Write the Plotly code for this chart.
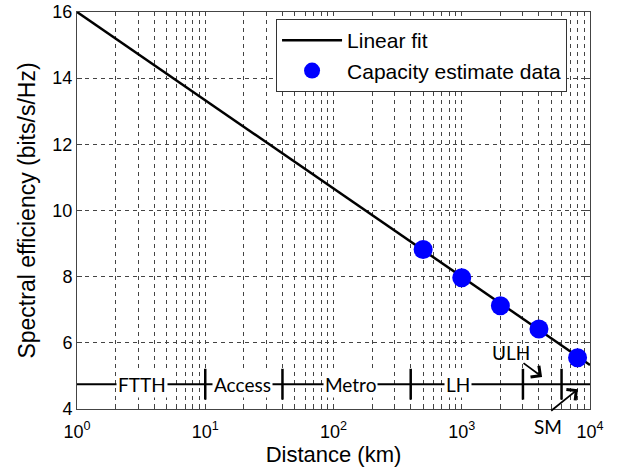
import numpy as np
import plotly.graph_objects as go

# ---- data ----
fit_x = [1, 10000]
fit_y = [16.0, 5.33]
data_x = [500, 1000, 2000, 4000, 8000]
data_y = [8.82, 7.97, 7.12, 6.42, 5.55]

band_level = 4.75
band_edges = [10, 40, 400, 3000, 6000]
band_labels = ["FTTH", "Access", "Metro", "LH"]
band_label_x = [3.2, 19.5, 135, 930]

y_ticks = [4, 6, 8, 10, 12, 14, 16]
decades = [1, 10, 100, 1000, 10000]
decade_text = ["10<sup>0</sup>", "10<sup>1</sup>", "10<sup>2</sup>", "10<sup>3</sup>", "10<sup>4</sup>"]

# tick positions incl. minor (2..9 per decade)
xt_vals, xt_text = [], []
for i, d in enumerate(decades[:-1]):
    for m in range(1, 10):
        xt_vals.append(d * m)
        xt_text.append(decade_text[i] if m == 1 else "")
xt_vals.append(10000)
xt_text.append(decade_text[-1])

FONT = "Liberation Sans, Arial, sans-serif"
BAND_FONT = "Lato, Open Sans, sans-serif"

fig = go.Figure()

# band line
fig.add_trace(go.Scatter(x=[1, 10000], y=[band_level, band_level], mode="lines",
                         line=dict(color="black", width=2), showlegend=False, hoverinfo="skip"))
fig.add_trace(go.Scatter(x=band_edges, y=[band_level] * len(band_edges), mode="markers",
                         marker=dict(symbol="line-ns", size=22, line=dict(color="black", width=2.5)),
                         showlegend=False, hoverinfo="skip"))

fig.add_trace(go.Scatter(x=fit_x, y=fit_y, mode="lines", name="Linear fit",
                         line=dict(color="black", width=2.5)))
fig.add_trace(go.Scatter(x=data_x, y=data_y, mode="markers", name="Capacity estimate data",
                         marker=dict(color="#0000ff", size=19)))

for lab, lx in zip(band_labels, band_label_x):
    fig.add_annotation(x=np.log10(lx), y=band_level, text=lab, showarrow=False,
                       font=dict(family=BAND_FONT, size=19, color="black"),
                       bgcolor="white", borderpad=1)

# ULH
fig.add_annotation(x=np.log10(2400), y=5.72, text="ULH", showarrow=False,
                   font=dict(family=BAND_FONT, size=19, color="black"))
fig.add_annotation(x=np.log10(4230), y=4.97, ax=np.log10(2950), ay=5.42,
                   axref="x", ayref="y", xref="x", yref="y", text="", showarrow=True,
                   arrowhead=4, arrowsize=1.5, arrowwidth=1.8, arrowcolor="black")
# SM
fig.add_annotation(x=np.log10(4700), xref="x", y=-0.045, yref="paper", yanchor="middle",
                   text="SM", showarrow=False,
                   font=dict(family=BAND_FONT, size=19, color="black"))
fig.add_annotation(x=np.log10(8050), y=4.6, ax=np.log10(4850), ay=3.91,
                   axref="x", ayref="y", xref="x", yref="y", text="", showarrow=True,
                   arrowhead=4, arrowsize=1.5, arrowwidth=1.8, arrowcolor="black")

grid = dict(showgrid=True, gridcolor="#444444", griddash="4px,4px", gridwidth=1)

fig.update_xaxes(type="log", range=[0, 4], tickvals=xt_vals, ticktext=xt_text,
                 ticks="inside", ticklen=4, tickcolor="#444", mirror="ticks",
                 showline=True, linecolor="#444", linewidth=1, zeroline=False, automargin=False,
                 tickfont=dict(family=FONT, size=18, color="black"), ticklabelstandoff=6,
                 title=dict(text="Distance (km)", font=dict(family=FONT, size=22, color="black"), standoff=4),
                 **grid)
fig.update_yaxes(range=[4, 16], tickvals=y_ticks,
                 ticks="inside", ticklen=5, tickcolor="#444", mirror="ticks",
                 showline=True, linecolor="#444", linewidth=1, zeroline=False, automargin=False,
                 tickfont=dict(family=FONT, size=18, color="black"),
                 title=dict(text="Spectral efficiency (bits/s/Hz)", font=dict(family=FONT, size=23, color="black"), standoff=10),
                 **grid)

fig.update_layout(
    width=618, height=470,
    margin=dict(l=77, r=28, t=12, b=61),
    plot_bgcolor="white", paper_bgcolor="white",
    legend=dict(x=0.388, y=0.982, xanchor="left", yanchor="top",
                bgcolor="white", bordercolor="#333", borderwidth=1,
                font=dict(family=FONT, size=21, color="black"),
                itemwidth=60, tracegroupgap=0),
    showlegend=True,
)

fig.write_html("out.html")
